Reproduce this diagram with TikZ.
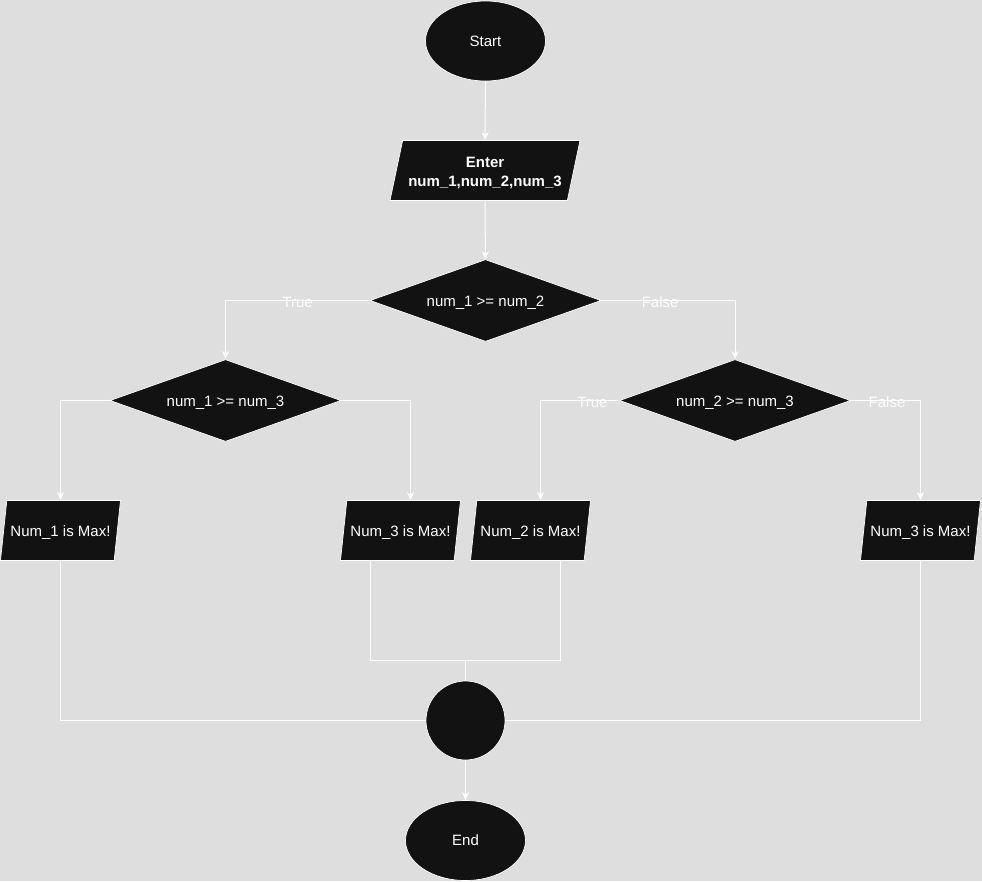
\documentclass[tikz,border=0pt]{standalone}
\usepackage{fontspec}
\setmainfont{Liberation Sans}
\usetikzlibrary{shapes.geometric,arrows.meta}
\definecolor{bg}{RGB}{222,222,222}
\definecolor{ink}{RGB}{18,18,18}
\newcommand{\ztext}[1]{\makebox[0pt]{\raisebox{-2.5pt}[\height][\depth]{\begin{tabular}{@{}c@{}}#1\end{tabular}}}}
\tikzset{
  shp/.style={fill=ink, draw=white, line width=0.7pt, text=white,
    font=\fontsize{15}{19}\selectfont, inner sep=0pt},
  terminal/.style={shp, ellipse, minimum width=120pt, minimum height=80pt},
  io/.style={shp, trapezium, trapezium left angle=71.57, trapezium right angle=108.43,
    trapezium stretches body, minimum width=120pt, minimum height=60pt},
  decision/.style={shp, diamond, minimum width=231pt, minimum height=82pt},
  joint/.style={shp, circle, minimum size=79pt},
  link/.style={draw=white, line width=1pt},
  flow/.style={link, -{Stealth[length=8pt,width=7pt,inset=2.5pt]}},
  lab/.style={text=white, font=\fontsize{15}{18}\selectfont, inner sep=1pt, yshift=-2pt}
}
\begin{document}
\begin{tikzpicture}[x=1pt,y=-1pt]
\fill[bg] (0,0) rectangle (982,881);
\useasboundingbox (0,0) rectangle (982,881);

\node[terminal] (start) at (485.5,41) {Start};
\node[io, minimum width=190pt, font=\fontsize{15}{19}\selectfont\bfseries] (enter) at (485,170.5)
  {\ztext{Enter\\num\_1,num\_2,num\_3}};
\node[decision] (c12) at (485.5,300.5) {\ztext{num\_1 >= num\_2}};
\node[decision] (c13) at (225.5,400.5) {\ztext{num\_1 >= num\_3}};
\node[decision] (c23) at (735,400.5) {\ztext{num\_2 >= num\_3}};

\node[io] (max1) at (60.5,530.5) {\ztext{Num\_1 is Max!}};
\node[io] (max3a) at (400.5,530.5) {\ztext{Num\_3 is Max!}};
\node[io] (max2) at (530.5,530.5) {\ztext{Num\_2 is Max!}};
\node[io] (max3b) at (920.5,530.5) {\ztext{Num\_3 is Max!}};

\node[joint] (merge) at (465.5,720.5) {};
\node[terminal] (end) at (465.5,840.5) {End};
\coordinate (join) at (465.5,660);

\draw[flow] (start) -- (enter);
\draw[flow] (enter) -- (c12);
\draw[flow] (c12.west) -| node[lab,pos=0.25] {True} (c13.north);
\draw[flow] (c12.east) -| node[lab,pos=0.22] {False} (c23.north);
\draw[flow] (c13.west) -| (max1.north);
\draw[flow] (c13.east) -| ([xshift=10pt]max3a.north);
\draw[flow] (c23.west) -| node[lab,pos=0.17] {True} ([xshift=10pt]max2.north);
\draw[flow] (c23.east) -| node[lab,pos=0.26] {False} (max3b.north);

\draw[link] ([xshift=-30pt]max3a.south) |- (join) -| ([xshift=30pt]max2.south);
\draw[link] (join) -- (merge);
\draw[link] (max1.south) |- (merge.west);
\draw[link] (max3b.south) |- (merge.east);
\draw[flow] (merge) -- (end);
\end{tikzpicture}
\end{document}
